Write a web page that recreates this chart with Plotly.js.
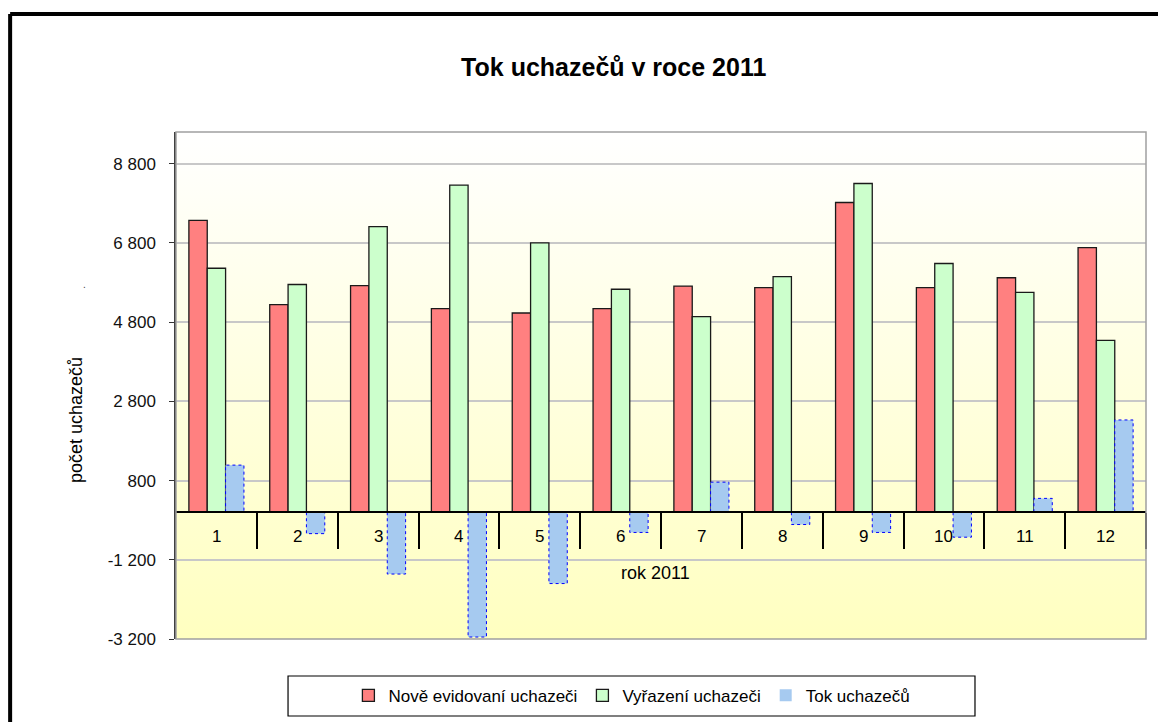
<!DOCTYPE html>
<html>
<head>
<meta charset="utf-8">
<script src="https://cdn.plot.ly/plotly-3.0.1.min.js"></script>
<style>
  html, body { margin: 0; padding: 0; background: #fff; }
  #chart { width: 1158px; height: 722px; }
</style>
</head>
<body>
<div id="chart"></div>
<script>
// data
const months = [1, 2, 3, 4, 5, 6, 7, 8, 9, 10, 11, 12];
const noveEvidovani = [7370, 5240, 5720, 5140, 5030, 5140, 5710, 5670, 7820, 5670, 5920, 6680];
const vyrazeni = [6160, 5750, 7210, 8260, 6800, 5630, 4940, 5950, 8300, 6280, 5550, 4340];
const tok = [1190, -540, -1560, -3150, -1800, -510, 760, -310, -510, -630, 350, 2330];

const yTickVals = [-3200, -1200, 800, 2800, 4800, 6800, 8800];
const yTickText = ['-3 200', '-1 200', '800', '2 800', '4 800', '6 800', '8 800'];
const yRange = [-3200, 9600];

const font = 'Arial, "Liberation Sans", sans-serif';
const barW = 0.227;

// dotted outline around the "Tok" bars (drawn from the data)
const outX = [], outY = [];
months.forEach((m, i) => {
    const x0 = m + barW / 2, x1 = m + barW * 1.5;
    outX.push(x0, x0, x1, x1, x0, null);
    outY.push(0, tok[i], tok[i], 0, 0, null);
});

const traces = [
    {
        type: 'bar', name: 'Nově evidovaní uchazeči',
        x: months, y: noveEvidovani, width: barW, offset: -barW * 1.5,
        marker: { color: '#FF8080', line: { color: '#1a1a1a', width: 1.3 } }
    },
    {
        type: 'bar', name: 'Vyřazení uchazeči',
        x: months, y: vyrazeni, width: barW, offset: -barW / 2,
        marker: { color: '#CCFFCC', line: { color: '#1a1a1a', width: 1.3 } }
    },
    {
        type: 'bar', name: 'Tok uchazečů',
        x: months, y: tok, width: barW, offset: barW / 2,
        marker: { color: '#A6CAF0', line: { color: '#0000FF', width: 0 } }
    },
    {
        type: 'scatter', mode: 'lines', x: outX, y: outY,
        line: { color: '#0000FF', width: 1, dash: 'dot' },
        showlegend: false, hoverinfo: 'skip'
    }
];

const gradient = '<svg xmlns="http://www.w3.org/2000/svg" width="100" height="100" preserveAspectRatio="none">' +
    '<defs><linearGradient id="g" x1="0" y1="0" x2="0" y2="1">' +
    '<stop offset="0" stop-color="#FFFFFF"/><stop offset="1" stop-color="#FFFFC0"/>' +
    '</linearGradient></defs><rect width="100" height="100" fill="url(#g)"/></svg>';

const zeroPos = (0 - yRange[0]) / (yRange[1] - yRange[0]);

const annotations = months.map(m => ({
    x: m, y: 0, xref: 'x', yref: 'y', text: String(m), showarrow: false,
    yshift: -24, font: { family: font, size: 17, color: '#000' }
}));
annotations.push(
    { x: 0.494, y: 0.130, xref: 'paper', yref: 'paper', text: 'rok 2011', showarrow: false,
      xanchor: 'center', yanchor: 'middle', font: { family: font, size: 18, color: '#000' } },
    { x: -0.103, y: 0.432, xref: 'paper', yref: 'paper', text: 'počet uchazečů', showarrow: false,
      xanchor: 'center', yanchor: 'middle',
      textangle: -90, font: { family: font, size: 18, color: '#000' } },
    { x: -0.094, y: 0.70, xref: 'paper', yref: 'paper', text: '.', showarrow: false,
      xanchor: 'center', yanchor: 'middle', font: { family: font, size: 10, color: '#444' } }
);

const layout = {
    width: 1158,
    height: 722,
    margin: { l: 176, r: 12, t: 132, b: 83, autoexpand: false },
    paper_bgcolor: '#fff',
    plot_bgcolor: 'rgba(0,0,0,0)',
    title: {
        text: '<b>Tok uchazečů v roce 2011</b>',
        font: { family: font, size: 25, color: '#000' },
        x: 0.53, xref: 'container', xanchor: 'center',
        y: 0.907, yref: 'container', yanchor: 'middle'
    },
    barmode: 'overlay',
    xaxis: {
        type: 'linear', range: [0.5, 12.5],
        anchor: 'free', position: zeroPos,
        showline: true, linecolor: '#000', linewidth: 1.5,
        ticks: 'outside', ticklen: 36, tickwidth: 1.5, tickcolor: '#000',
        tickvals: months.map(m => m + 0.5),
        showticklabels: false, showgrid: false, zeroline: false,
        fixedrange: true
    },
    yaxis: {
        range: yRange,
        tickvals: yTickVals, ticktext: yTickText,
        ticks: 'outside', ticklen: 5, tickcolor: '#333', tickwidth: 1.2,
        ticklabelstandoff: 10,
        showline: true, linecolor: '#404040', linewidth: 1.5,
        gridcolor: '#C8C8C8', gridwidth: 1.5, zeroline: false,
        tickfont: { family: font, size: 17, color: '#111' },
        fixedrange: true
    },
    showlegend: true,
    legend: {
        orientation: 'h', x: 0.47, xanchor: 'center', y: -0.112, yanchor: 'middle',
        bgcolor: 'rgba(0,0,0,0)', borderwidth: 0, itemwidth: 30,
        font: { family: font, size: 17, color: '#000' }
    },
    images: [{
        source: 'data:image/svg+xml;charset=utf-8,' + encodeURIComponent(gradient),
        xref: 'paper', yref: 'paper', x: 0, y: 1, sizex: 1, sizey: 1,
        xanchor: 'left', yanchor: 'top', sizing: 'stretch', layer: 'below'
    }],
    shapes: [
        // plot area border
        { type: 'rect', xref: 'paper', yref: 'paper', x0: 0, x1: 1, y0: 0, y1: 1,
          line: { color: '#A0A0A0', width: 1.5 }, layer: 'above' },
        // legend box
        { type: 'rect', xref: 'paper', yref: 'paper', x0: 0.1155, x1: 0.8237, y0: -0.1519, y1: -0.073,
          line: { color: '#000', width: 1.2 }, fillcolor: '#fff', layer: 'below' },
        // outer frame (top and left)
        { type: 'line', xref: 'paper', yref: 'paper', x0: -0.171, x1: 1.1, y0: 1.2327, y1: 1.2327,
          line: { color: '#000', width: 4 } },
        { type: 'line', xref: 'paper', yref: 'paper', x0: -0.171, x1: -0.171, y0: 1.2327, y1: -0.2,
          line: { color: '#000', width: 4 } }
    ],
    annotations: annotations
};

Plotly.newPlot('chart', traces, layout, { displayModeBar: false, responsive: false });
</script>
</body>
</html>
